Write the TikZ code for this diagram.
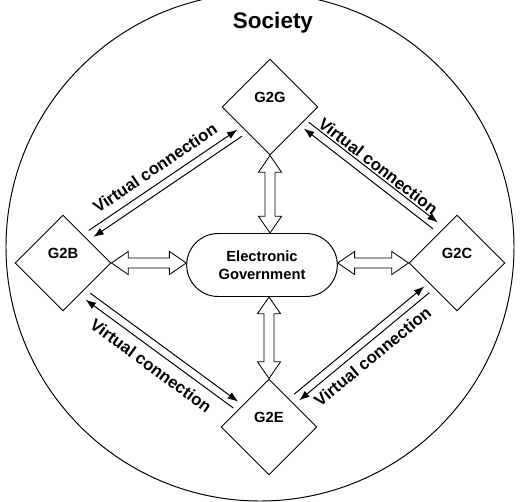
\documentclass[tikz,border=0pt]{standalone}
\usepackage{fontspec}
\setmainfont{Liberation Sans}
\usetikzlibrary{shapes.geometric, shapes.misc, arrows.meta, calc}

\tikzset{
  govbox/.style={draw, diamond, aspect=1, minimum size=2.4cm, inner sep=0pt, line width=0.7pt},
  govlabel/.style={font=\fontsize{10.5}{12}\selectfont\bfseries, yshift=0.25cm},
  vline/.style={line width=0.7pt, shorten <=0.15cm, shorten >=0.15cm},
  vtext/.style={font=\fontsize{11.9}{14}\selectfont\bfseries},
  fatarrow/.style={draw, fill=white, line width=0.6pt, line join=miter,
    to path={
      -- ($(\tikztostart)!0.51cm!34.6:(\tikztotarget)$)
      -- ($(\tikztostart)!0.438cm!16.6:(\tikztotarget)$)
      -- ($(\tikztotarget)!0.438cm!-16.6:(\tikztostart)$)
      -- ($(\tikztotarget)!0.51cm!-34.6:(\tikztostart)$)
      -- (\tikztotarget)
      -- ($(\tikztotarget)!0.51cm!34.6:(\tikztostart)$)
      -- ($(\tikztotarget)!0.438cm!16.6:(\tikztostart)$)
      -- ($(\tikztostart)!0.438cm!-16.6:(\tikztotarget)$)
      -- ($(\tikztostart)!0.51cm!-34.6:(\tikztotarget)$)
      -- cycle}}
}

\begin{document}
\begin{tikzpicture}[>={Latex[length=0.26cm, width=0.19cm]}]
  \useasboundingbox (-6.5,-6.35) rectangle (6.55,6.175);

  % Society
  \draw[line width=0.7pt] (0,0) circle (6.35cm);
  \node[font=\fontsize{16}{19}\selectfont\bfseries] (society) at (0.325,5.6) {Society};

  % Government and its four partners
  \node[draw, rounded rectangle, minimum width=4cm, minimum height=1.575cm, line width=0.7pt, align=center, font=\fontsize{10.5}{12.8}\selectfont\bfseries] (egov) at (0.05,-0.45) {Electronic\\Government};
  \node[govbox, label={[govlabel]center:G2G}] (g2g) at (0.25,3.5) {};
  \node[govbox, label={[govlabel]center:G2B}] (g2b) at (-4.925,-0.4) {};
  \node[govbox, label={[govlabel]center:G2C}] (g2c) at (4.925,-0.4) {};
  \node[govbox, label={[govlabel]center:G2E}] (g2e) at (0.225,-4.5) {};

  \draw[fatarrow] (g2g.south) to (g2g.south |- egov.north);
  \draw[fatarrow] (g2e.north |- egov.south) to (g2e.north);
  \draw[fatarrow] (g2b.east) to (g2b.east -| egov.west);
  \draw[fatarrow] (egov.east |- g2c.west) to (g2c.west);

  % Virtual connections
  \draw[vline, ->] ($(g2b.north east)!0.15cm!90:(g2g.south west)$) -- ($(g2g.south west)!0.15cm!-90:(g2b.north east)$)
    node[vtext, midway, sloped, above=0.08cm] {Virtual connection};
  \draw[vline, <-] ($(g2b.north east)!0.05cm!-90:(g2g.south west)$) -- ($(g2g.south west)!0.05cm!90:(g2b.north east)$);

  \draw[vline, ->] ($(g2g.south east)!0.4cm!90:(g2c.north west)$) -- ($(g2c.north west)!0.4cm!-90:(g2g.south east)$)
    node[vtext, midway, sloped, above=-0.08cm] {Virtual connection};
  \draw[vline, <-] ($(g2g.south east)!0.2cm!90:(g2c.north west)$) -- ($(g2c.north west)!0.2cm!-90:(g2g.south east)$);

  \draw[vline, ->] ($(g2c.south west)!0.05cm!90:(g2e.north east)$) -- ($(g2e.north east)!0.05cm!-90:(g2c.south west)$)
    node[vtext, midway, sloped, below=0.04cm] {Virtual connection};
  \draw[vline, <-] ($(g2c.south west)!0.15cm!-90:(g2e.north east)$) -- ($(g2e.north east)!0.15cm!90:(g2c.south west)$);

  \draw[vline, ->] ($(g2e.north west)!0.275cm!90:(g2b.south east)$) -- ($(g2b.south east)!0.275cm!-90:(g2e.north west)$)
    node[vtext, midway, sloped, below=0.075cm] {Virtual connection};
  \draw[vline, <-] ($(g2e.north west)!0.075cm!90:(g2b.south east)$) -- ($(g2b.south east)!0.075cm!-90:(g2e.north west)$);
\end{tikzpicture}
\end{document}
